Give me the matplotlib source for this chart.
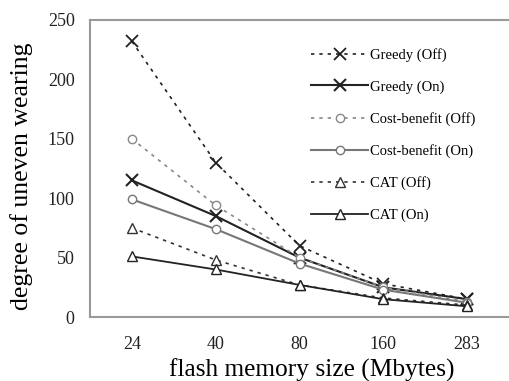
import matplotlib.pyplot as plt

sizes = ['24', '40', '80', '160', '283']
greedy_off = [232, 130, 60, 28, 15]
greedy_on = [115, 85, 50, 25, 15]
cb_off = [150, 94, 50, 25, 13]
cb_on = [99, 74, 45, 23, 12]
cat_off = [75, 48, 27, 16, 10]
cat_on = [51, 40, 27, 15, 9]

plt.rcParams['font.family'] = ['Liberation Serif', 'DejaVu Serif']

fig = plt.figure(figsize=(5.09, 3.81), dpi=100)
ax = fig.add_axes([90 / 509, 1 - 317 / 381, 419 / 509, 297 / 381])

x = range(len(sizes))
ax.plot(x, greedy_off, ls=(0, (2, 3)), color='#222222', lw=1.2, marker='x', ms=8, mew=1.3, label='Greedy (Off)')
ax.plot(x, greedy_on, ls='-', color='#222222', lw=1.5, marker='x', ms=8, mew=1.5, label='Greedy (On)')
ax.plot(x, cb_off, ls=(0, (2, 3)), color='#888888', lw=1.2, marker='o', ms=6, mfc='white', mew=1.0, label='Cost-benefit (Off)')
ax.plot(x, cb_on, ls='-', color='#777777', lw=1.5, marker='o', ms=6, mfc='white', mew=1.0, label='Cost-benefit (On)')
ax.plot(x, cat_off, ls=(0, (2, 3)), color='#333333', lw=1.2, marker='^', ms=7, mfc='white', mew=1.0, label='CAT (Off)')
ax.plot(x, cat_on, ls='-', color='#222222', lw=1.3, marker='^', ms=7, mfc='white', mew=1.0, label='CAT (On)')

ax.set_xlim(-0.5, 4.5)
ax.set_ylim(0, 250)
ax.set_xticks(list(x))
ax.set_xticklabels(sizes)
ax.set_yticks([0, 50, 100, 150, 200, 250])
ax.tick_params(axis='both', labelsize=13, length=0, pad=11, colors='#222222')
ax.tick_params(axis='x', pad=14)
ax.set_xlabel('flash memory size (Mbytes)', fontsize=18.3)
ax.xaxis.set_label_coords(0.53, -0.14)
ax.set_ylabel('degree of uneven wearing', fontsize=18.5)
ax.yaxis.set_label_coords(-0.136, 0.475)

for side in ['left', 'bottom', 'top']:
    ax.spines[side].set_color('#999999')
    ax.spines[side].set_linewidth(1.5)
ax.spines['right'].set_visible(False)

ax.legend(loc='upper left', bbox_to_anchor=(0.514, 0.925), frameon=False, fontsize=10.5,
          handlelength=3.9, handletextpad=0.15, labelspacing=1.25, borderaxespad=0)

fig.savefig('out.png', dpi=100)
